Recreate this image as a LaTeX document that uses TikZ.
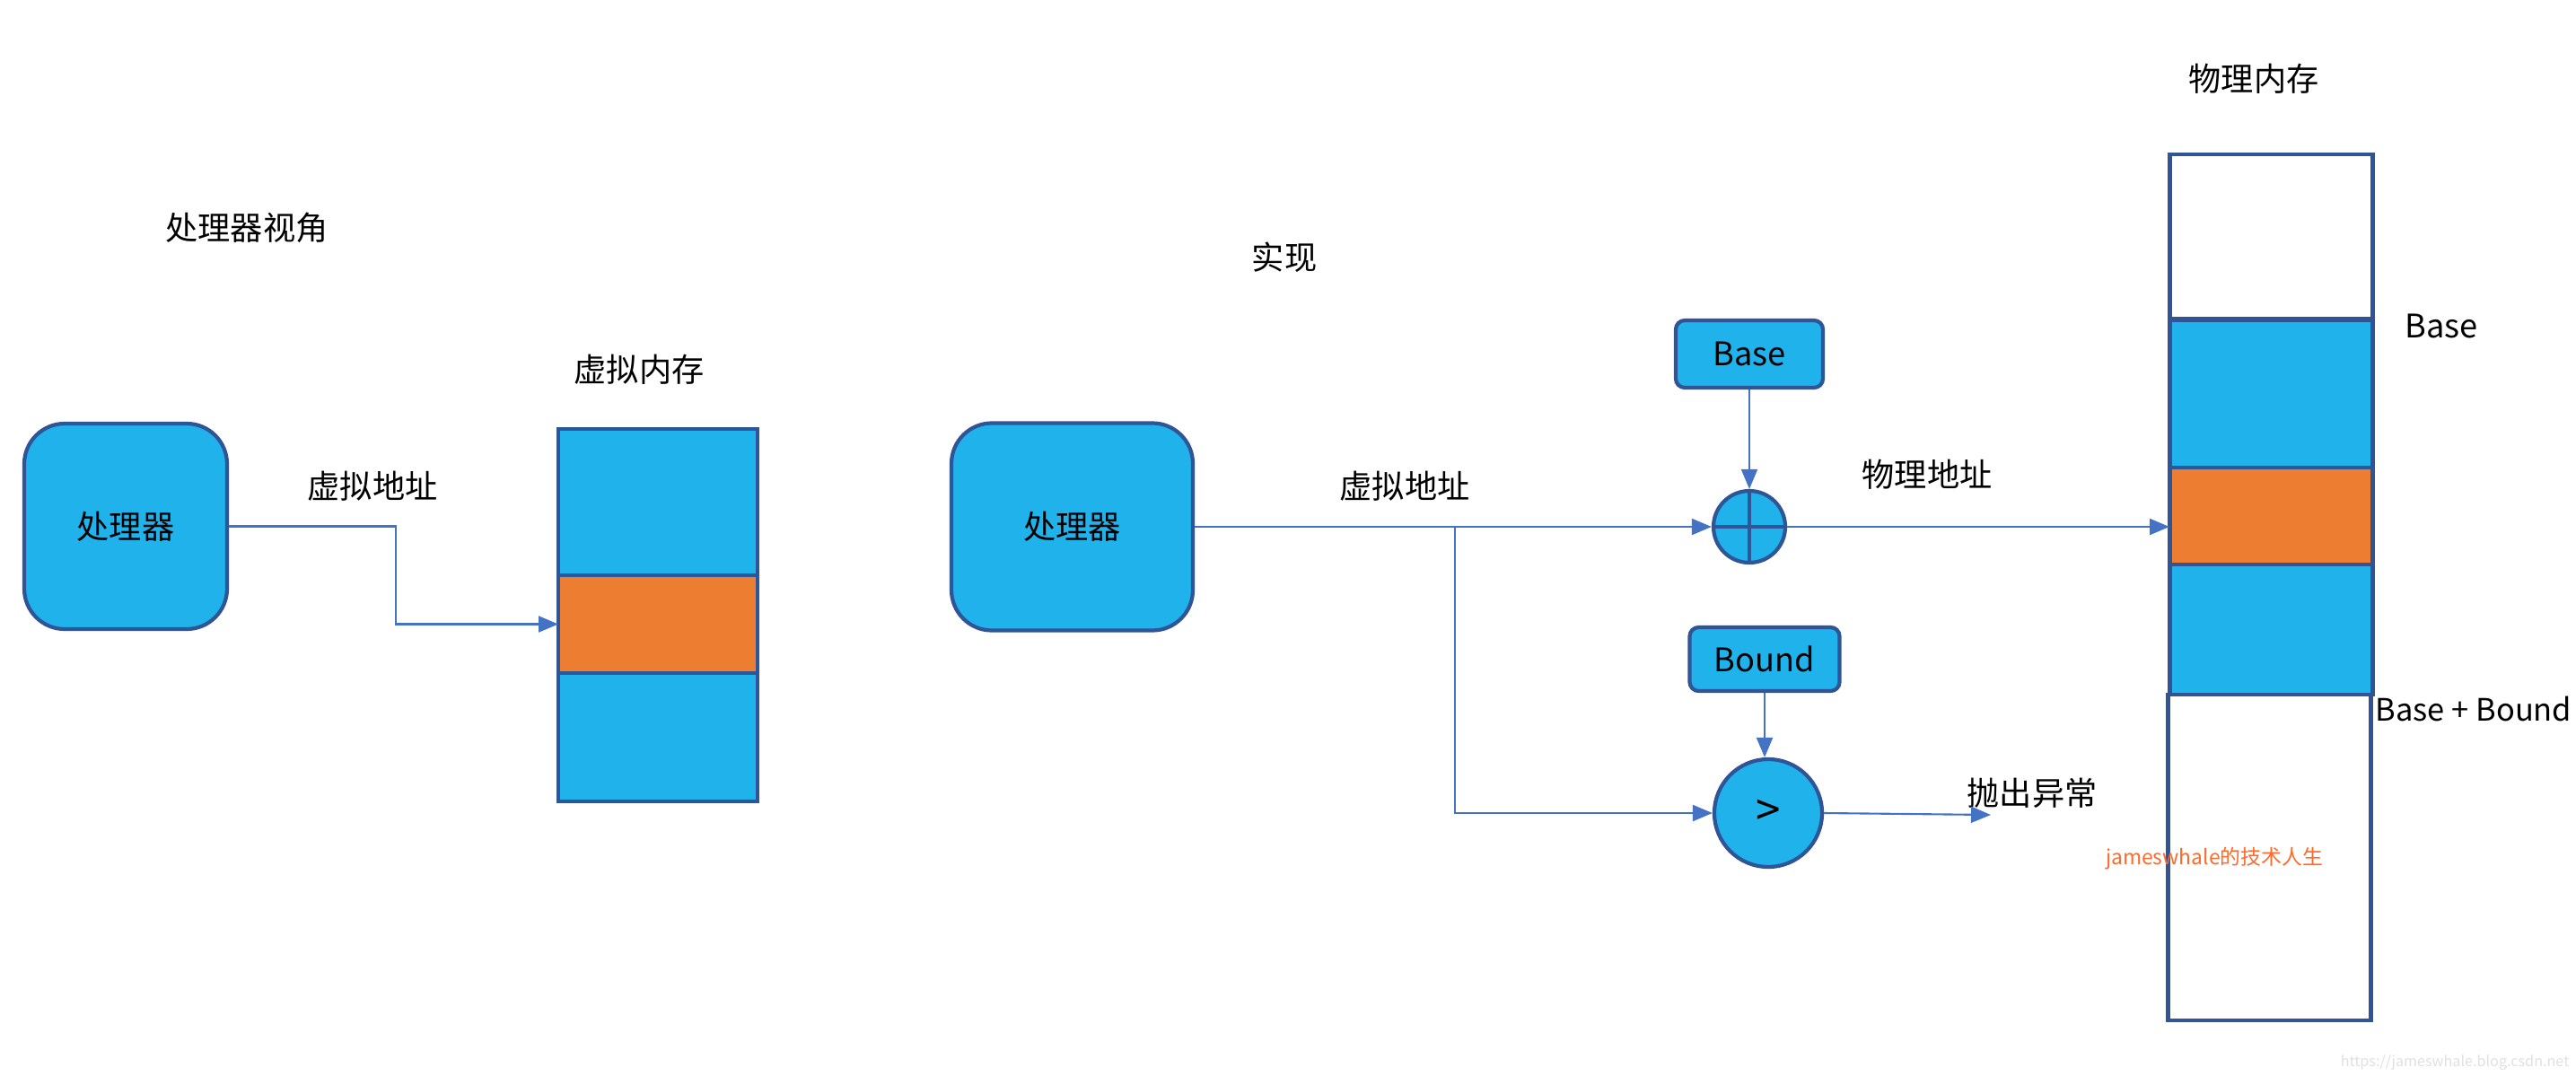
\documentclass[tikz,border=0pt]{standalone}
\usepackage{fontspec}
\setmainfont{Noto Sans CJK SC}
\usetikzlibrary{arrows.meta}
\definecolor{fillblue}{RGB}{31,178,235}
\definecolor{edgeblue}{RGB}{47,85,151}
\definecolor{linkblue}{RGB}{68,114,196}
\definecolor{blockorange}{RGB}{237,125,49}
\definecolor{markorange}{RGB}{255,106,43}
\begin{document}
\begin{tikzpicture}[x=1cm,y=-1cm,
    font=\fontsize{10.3}{12}\selectfont,
    cpu/.style={draw=edgeblue,fill=fillblue,line width=1.2pt,rounded corners=0.45cm,inner sep=0pt},
    reg/.style={draw=edgeblue,fill=fillblue,line width=1.2pt,rounded corners=0.1cm,inner sep=0pt},
    unit/.style={circle,draw=edgeblue,fill=fillblue,line width=1.2pt,inner sep=0pt},
    block/.style={draw=edgeblue,line width=1.4pt,inner sep=0pt,outer sep=0pt},
    link/.style={linkblue,line width=0.6pt,-{Triangle[length=2.2mm,width=1.8mm]}}]
        \useasboundingbox (0,0) rectangle (28.70,11.98);

        % processor view
        \node (titleA) at (2.75,2.54) {处理器视角};
        \node[cpu,minimum width=2.26cm,minimum height=2.29cm] (cpuA) at (1.40,5.865) {处理器};
        \node (vaddrA) at (4.15,5.42) {虚拟地址};
        \node (vmemlbl) at (7.12,4.12) {虚拟内存};
        \node[block,fill=fillblue,minimum width=2.22cm,minimum height=1.63cm] (vtop) at (7.33,5.595) {};
        \node[block,fill=blockorange,minimum width=2.22cm,minimum height=1.09cm] (vmid) at (7.33,6.955) {};
        \node[block,fill=fillblue,minimum width=2.22cm,minimum height=1.43cm] (vbot) at (7.33,8.215) {};
        \draw[link] (cpuA.east) -- ++(1.86,0) |- (vmid.west);

        % implementation
        \node (titleB) at (14.31,2.87) {实现};
        \node[cpu,minimum width=2.69cm,minimum height=2.31cm] (cpuB) at (11.945,5.87) {处理器};
        \node (vaddrB) at (15.65,5.42) {虚拟地址};
        \node[reg,minimum width=1.64cm,minimum height=0.75cm] (base) at (19.49,3.945) {Base};
        \node[reg,minimum width=1.67cm,minimum height=0.71cm] (bound) at (19.66,7.345) {Bound};
        \node[unit,minimum size=0.80cm] (plus) at (19.49,5.87) {};
        \draw[edgeblue,line width=1.2pt] (plus.north) -- (plus.south) (plus.west) -- (plus.east);
        \node[unit,minimum size=1.20cm,font=\fontsize{14}{16}\selectfont] (gt) at (19.70,9.06) {>};
        \coordinate (fork) at (16.21,5.87);
        \coordinate (fault) at (22.18,9.08);
        \node (paddr) at (21.47,5.29) {物理地址};
        \node (faultlbl) at (22.64,8.84) {抛出异常};
        \draw[link] (base.south) -- (plus.north);
        \draw[link] (cpuB.east) -- (plus.west);
        \draw[link] (fork) |- (gt.west);
        \draw[link] (bound.south) -- (bound.south |- gt.north);
        \draw[link] (gt.east) -- (fault);

        % physical memory
        \node (pmemlbl) at (25.11,0.88) {物理内存};
        \node[block,fill=white,minimum width=2.26cm,minimum height=1.83cm] (ptop) at (25.30,2.635) {};
        \node[block,fill=fillblue,minimum width=2.26cm,minimum height=1.64cm] (phi) at (25.30,4.39) {};
        \node[block,fill=blockorange,minimum width=2.26cm,minimum height=1.08cm] (pmid) at (25.30,5.75) {};
        \node[block,fill=fillblue,minimum width=2.26cm,minimum height=1.45cm] (plo) at (25.30,7.015) {};
        \node[block,fill=white,minimum width=2.26cm,minimum height=3.63cm] (pbot) at (25.28,9.555) {};
        \draw[link] (plus.east) -- (plus.east -| pmid.west);
        \node (baselbl) at (27.20,3.63) {Base};
        \node[anchor=east,inner sep=0pt,font=\fontsize{9.8}{11}\selectfont] (limitlbl) at (28.66,7.90) {Base + Bound};

        % watermarks
        \node[markorange,font=\fontsize{6.5}{8}\selectfont] (mark) at (24.67,9.57) {jameswhale的技术人生};
        \node[black!12,anchor=east,inner sep=0pt,font=\fontsize{4.6}{6}\selectfont] (url) at (28.63,11.84) {https://jameswhale.blog.csdn.net};
\end{tikzpicture}
\end{document}
